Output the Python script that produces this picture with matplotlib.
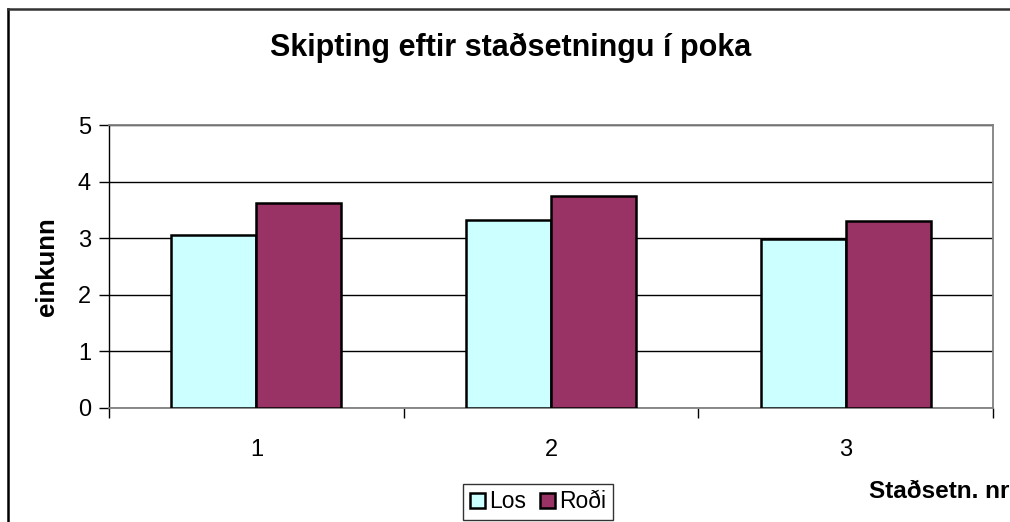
import matplotlib
matplotlib.use("Agg")
import matplotlib.pyplot as plt
from matplotlib.lines import Line2D
from matplotlib.patches import Patch
import numpy as np

# ----- DATA -----
categories = ["1", "2", "3"]
los = [3.06, 3.32, 2.98]
rodi = [3.62, 3.75, 3.30]
series_names = ["Los", "Roði"]
colors = ["#CCFFFF", "#993366"]
# ----------------

plt.rcParams["font.family"] = ["Liberation Sans", "DejaVu Sans"]

fig = plt.figure(figsize=(10.10, 5.22), dpi=100)
ax = fig.add_axes([109 / 1010, 114 / 522, 884 / 1010, 283 / 522])

x = np.arange(len(categories))
w = 0.288
ax.bar(x - w / 2, los, w, color=colors[0], edgecolor="black", linewidth=1.8, zorder=3)
ax.bar(x + w / 2, rodi, w, color=colors[1], edgecolor="black", linewidth=1.8, zorder=3)

ax.set_xlim(-0.5, len(categories) - 0.5)
ax.set_ylim(0, 5)
ax.set_yticks(range(0, 6))
ax.yaxis.grid(True, color="black", linewidth=1, zorder=0)

# category labels centered, tick marks on the boundaries
ax.set_xticks(x)
ax.set_xticklabels(categories, fontsize=17)
ax.tick_params(axis="x", which="major", length=0, pad=22)
ax.set_xticks(np.arange(-0.5, len(categories)), minor=True)
ax.tick_params(axis="x", which="minor", length=7, width=1, color="black", direction="out")
ax.tick_params(axis="y", labelsize=17, length=7, width=1, color="black", pad=6)

for side in ["top", "right", "bottom"]:
    ax.spines[side].set_color("#808080")
    ax.spines[side].set_linewidth(1.3)
ax.spines["left"].set_color("black")
ax.spines["left"].set_linewidth(1)

ax.set_ylabel("einkunn", fontsize=18.5, fontweight="bold")
ax.yaxis.set_label_coords(-50 / 884, 0.5)

fig.text(511 / 1010, 1 - 48 / 522, "Skipting eftir staðsetningu í poka",
         fontsize=22, fontweight="bold", ha="center", va="center")
fig.text(869 / 1010, 1 - 491 / 522, "Staðsetn. nr", fontsize=17.5,
         fontweight="bold", ha="left", va="center")

handles = [Patch(facecolor=c, edgecolor="black", linewidth=1.8) for c in colors]
leg = fig.legend(handles, series_names, loc="center", bbox_to_anchor=(538 / 1010, 1 - 502 / 522),
                 ncol=2, fontsize=16.5, frameon=True, fancybox=False, edgecolor="black",
                 handlelength=0.65, handleheight=0.65, handletextpad=0.2, columnspacing=0.6,
                 borderpad=0.3, borderaxespad=0)
leg.get_frame().set_linewidth(1)

# outer chart border (left and top only visible)
fig.add_artist(Line2D([8 / 1010, 8 / 1010], [0, 1 - 8.5 / 522], color="black", linewidth=1.8))
fig.add_artist(Line2D([8 / 1010, 1], [1 - 8.5 / 522, 1 - 8.5 / 522], color="#333333", linewidth=1.8))

fig.savefig("out.png", dpi=100)
